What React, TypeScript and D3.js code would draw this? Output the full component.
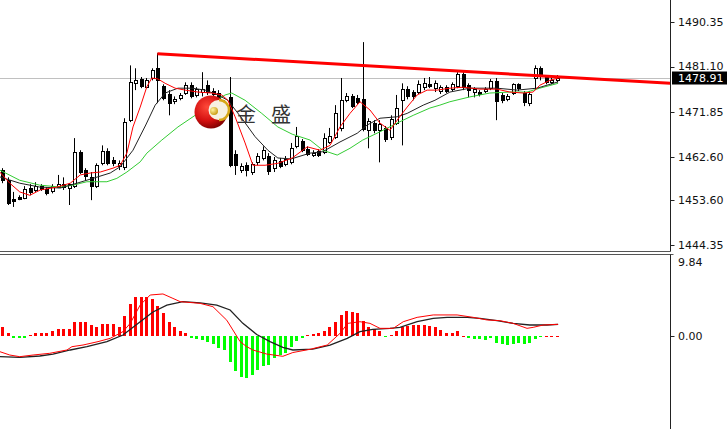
import React from 'react';
import * as d3 from 'd3';

// ---- price candles (bar index 0..100) ----
const opens = [1459.8,1457.7,1453.8,1454.2,1454.0,1456.1,1455.7,1456.5,1455.9,1455.5,1456.3,1456.9,1456.1,1456.5,1463.5,1459.8,1458.3,1456.5,1461.2,1463.7,1461.8,1460.6,1460.4,1470.1,1477.7,1478.6,1476.9,1478.8,1480.8,1477.1,1475.5,1474.0,1474.6,1475.7,1477.3,1475.3,1475.9,1477.3,1476.1,1475.7,1472.2,1474.8,1463.1,1459.8,1460.8,1459.4,1461.4,1462.3,1462.7,1460.2,1461.6,1461.0,1461.4,1464.7,1465.8,1464.1,1462.9,1463.7,1463.5,1465.6,1466.6,1468.5,1474.2,1475.0,1474.6,1474.4,1468.0,1469.5,1468.0,1468.5,1466.6,1469.5,1474.2,1476.5,1475.9,1475.9,1476.9,1477.5,1476.7,1476.1,1476.9,1476.5,1477.1,1479.6,1477.3,1475.9,1475.9,1476.1,1476.7,1478.1,1475.3,1474.4,1475.7,1477.5,1475.7,1473.6,1478.8,1480.8,1479.0,1477.9,1478.3];
const highs = [1460.2,1458.3,1455.3,1454.6,1456.5,1456.9,1457.3,1456.9,1456.3,1456.9,1458.8,1458.3,1457.1,1466.4,1463.9,1460.2,1459.4,1461.2,1464.9,1464.3,1462.5,1461.8,1470.5,1481.4,1480.8,1479.0,1478.8,1480.8,1483.9,1477.5,1476.3,1475.0,1475.7,1477.9,1477.9,1476.9,1480.0,1478.3,1476.7,1476.3,1474.2,1479.0,1463.9,1461.2,1461.4,1461.4,1463.3,1464.7,1463.3,1462.5,1462.3,1462.7,1465.4,1468.7,1466.2,1464.7,1463.9,1464.1,1467.4,1468.5,1473.2,1478.8,1475.7,1475.5,1475.3,1486.2,1470.5,1470.1,1470.1,1468.9,1471.1,1475.3,1477.7,1477.1,1476.3,1478.3,1478.8,1479.0,1478.3,1477.3,1477.3,1477.9,1480.0,1480.0,1477.7,1476.9,1476.3,1476.9,1478.6,1478.8,1475.7,1475.5,1477.7,1477.7,1476.1,1476.1,1481.4,1481.2,1479.4,1478.8,1479.4];
const lows = [1457.1,1452.6,1452.2,1453.6,1453.8,1454.6,1455.3,1455.5,1454.6,1455.0,1456.1,1455.7,1452.6,1456.1,1459.0,1457.7,1453.6,1456.1,1460.8,1460.8,1460.6,1459.8,1459.8,1469.7,1476.3,1476.7,1476.7,1478.3,1473.6,1474.2,1471.1,1473.4,1474.2,1475.3,1474.6,1474.8,1475.0,1475.3,1474.8,1472.8,1471.8,1460.4,1458.8,1459.2,1458.5,1458.8,1460.8,1461.8,1458.8,1459.4,1460.2,1460.6,1461.0,1464.3,1463.5,1462.7,1462.5,1462.5,1463.1,1465.2,1466.2,1467.8,1473.8,1472.6,1473.4,1467.8,1464.3,1467.4,1461.4,1465.6,1466.0,1469.1,1464.9,1474.4,1474.2,1475.5,1476.3,1476.7,1475.9,1475.5,1475.7,1476.1,1476.7,1476.3,1474.8,1474.8,1475.0,1475.7,1476.3,1470.1,1473.6,1474.0,1475.3,1476.1,1473.0,1473.0,1476.3,1478.3,1477.5,1477.5,1477.9];
const closes = [1457.7,1453.0,1453.4,1453.8,1455.9,1455.3,1456.5,1455.9,1455.0,1456.5,1456.9,1456.3,1456.9,1463.5,1459.4,1458.5,1456.5,1460.8,1463.7,1461.2,1461.2,1461.2,1469.7,1477.9,1478.3,1477.1,1478.3,1480.4,1478.3,1474.6,1473.6,1474.4,1475.3,1477.3,1475.0,1476.5,1476.5,1475.9,1475.5,1473.4,1473.4,1460.8,1460.8,1460.6,1459.8,1461.0,1462.7,1463.9,1459.6,1461.8,1460.6,1462.1,1464.3,1466.8,1463.9,1463.1,1463.3,1462.9,1466.4,1466.8,1471.5,1474.2,1475.0,1473.0,1473.8,1468.2,1469.9,1468.0,1469.3,1466.2,1470.3,1472.6,1476.5,1475.0,1475.0,1477.5,1477.7,1477.1,1477.7,1476.9,1476.1,1477.5,1479.6,1476.9,1476.3,1476.5,1475.5,1476.5,1478.1,1474.0,1474.2,1475.0,1477.5,1476.7,1473.8,1475.5,1480.8,1479.2,1477.9,1478.3,1478.9];

// ---- moving averages: [bar index, price] ----
const maFast: [number, number][] = [[-0.4,1459.4],[1.4,1457.1],[3.2,1455.3],[5.0,1454.6],[6.9,1455.7],[9.9,1456.3],[12.3,1457.1],[14.1,1458.8],[15.9,1459.2],[17.7,1459.4],[20.0,1460.2],[21.3,1460.8],[22.5,1463.3],[23.6,1468.7],[24.9,1472.8],[26.1,1477.0],[27.0,1478.8],[28.1,1478.6],[29.4,1477.7],[31.2,1476.7],[33.0,1476.3],[35.3,1475.9],[37.8,1475.7],[39.6,1475.3],[40.7,1474.2],[42.0,1470.8],[43.8,1465.4],[45.2,1460.8],[47.4,1460.8],[49.7,1461.2],[52.3,1462.3],[55.0,1464.6],[57.3,1463.9],[59.1,1464.9],[60.9,1468.7],[62.7,1471.5],[64.5,1473.9],[66.3,1472.2],[68.1,1469.5],[69.9,1468.0],[71.2,1470.1],[73.0,1472.8],[74.8,1475.3],[76.6,1476.3],[78.4,1476.3],[80.7,1476.7],[83.1,1476.9],[86.1,1476.5],[89.2,1476.5],[91.5,1475.9],[93.9,1475.7],[95.7,1475.9],[96.9,1477.3],[98.7,1478.3],[100.2,1478.8]];
const maMid: [number, number][] = [[-0.4,1458.4],[3.2,1457.1],[6.8,1456.3],[10.5,1456.1],[13.5,1457.1],[16.4,1458.1],[19.5,1459.2],[21.3,1460.5],[23.6,1463.9],[25.9,1469.1],[27.6,1473.2],[29.4,1475.7],[31.7,1476.7],[34.2,1476.7],[36.6,1476.3],[38.9,1475.3],[40.7,1474.2],[43.2,1470.5],[45.6,1466.7],[47.9,1463.9],[49.7,1462.3],[52.1,1462.1],[55.5,1463.3],[57.8,1463.6],[60.9,1465.6],[64.0,1467.4],[65.8,1469.1],[68.1,1470.5],[71.2,1470.8],[73.0,1471.5],[75.9,1473.2],[78.0,1474.2],[80.7,1475.9],[84.3,1476.7],[89.2,1476.7],[92.8,1476.3],[96.4,1476.7],[100.2,1478.0]];
const maSlow: [number, number][] = [[-0.4,1459.8],[3.2,1457.7],[6.8,1456.7],[10.5,1456.3],[12.8,1456.7],[15.3,1457.4],[18.9,1457.4],[20.7,1458.1],[22.5,1459.4],[24.9,1461.5],[26.1,1463.3],[28.8,1466.0],[31.7,1468.7],[34.8,1471.1],[37.8,1473.6],[40.2,1475.3],[41.4,1475.7],[43.8,1474.2],[46.8,1471.5],[49.7,1468.7],[52.3,1467.2],[55.5,1466.0],[57.8,1463.9],[60.4,1462.9],[62.7,1464.3],[65.0,1466.0],[68.1,1467.7],[71.2,1469.5],[74.1,1471.1],[77.1,1472.6],[78.9,1473.2],[80.7,1473.9],[84.3,1474.9],[87.9,1475.7],[91.5,1475.9],[94.6,1475.9],[96.9,1476.7],[100.2,1477.7]];

// trend line (bar index, price)
const trendLine: [number, number][] = [[28, 1483.8], [120.4, 1477.7]];
const lastPrice = 1478.9;
const lastPriceLabel = '1478.91';

// price axis
const priceTicks = [1490.35, 1481.10, 1471.85, 1462.60, 1453.60, 1444.35];
const priceTickLabels = ['1490.35', '1481.10', '1471.85', '1462.60', '1453.60', '1444.35'];

// ---- MACD ----
const macdHist = [1.24,0.35,-0.3,-0.3,-0.2,0.1,0.35,0.35,0.35,0.7,0.9,0.9,0.9,1.86,1.86,1.86,1.46,1.15,1.6,1.6,1.6,1.24,2.66,4.25,5.14,5.14,5.14,4.87,4.0,3.0,1.9,1.24,0.7,0.44,-0.2,-0.4,-0.55,-0.75,-1.0,-1.64,-1.86,-3.4,-4.7,-5.4,-5.63,-5.2,-4.5,-4.0,-3.86,-2.97,-2.53,-2.3,-1.4,-0.6,-0.2,0.1,0.25,0.35,0.65,1.15,1.8,2.8,3.3,3.2,3.1,2.0,1.24,0.9,0.6,-0.1,0.1,0.6,1.15,1.33,1.46,1.46,1.46,1.33,1.15,0.8,0.44,0.44,0.6,0.05,-0.3,-0.44,-0.44,-0.53,-0.3,-0.9,-1.06,-1.2,-1.06,-0.97,-1.06,-0.9,-0.44,-0.1,0.05,0.05,0.05];
const macdMain: [number, number][] = [[-0.4,-2.08],[1.4,-2.53],[3.2,-2.75],[5.6,-2.53],[8.6,-2.3],[11.7,-1.86],[12.6,-1.42],[14.6,-1.2],[17.3,-0.75],[19.5,-0.31],[21.8,0.58],[23.1,1.68],[24.9,4.12],[26.7,5.45],[29.0,5.59],[30.8,5.0],[32.1,4.57],[35.7,4.34],[38.0,3.9],[40.5,2.1],[41.6,0.8],[42.9,-0.75],[44.1,-1.42],[45.2,-1.86],[47.7,-2.4],[50.6,-2.7],[52.4,-2.2],[55.5,-1.77],[58.6,-1.2],[60.9,0.35],[62.3,1.68],[64.5,1.9],[66.3,1.68],[68.1,1.02],[70.5,1.02],[72.3,1.9],[74.8,2.48],[77.7,2.8],[82.0,2.8],[84.9,2.48],[87.4,2.13],[89.7,2.04],[92.1,1.68],[94.6,1.02],[95.7,1.15],[97.5,1.46],[100.2,1.55]];
const macdSignal: [number, number][] = [[-0.4,-2.75],[3.2,-2.84],[6.8,-2.66],[9.2,-2.4],[12.3,-1.86],[15.3,-1.42],[18.9,-0.75],[21.8,0.13],[24.9,1.9],[27.2,3.2],[29.7,4.1],[32.6,4.57],[35.7,4.4],[38.7,4.1],[41.1,3.46],[43.4,1.68],[45.9,0.2],[48.3,-0.75],[50.6,-1.5],[52.4,-1.86],[56.0,-1.75],[59.1,-1.2],[62.2,-0.31],[64.5,0.57],[66.8,0.89],[69.9,1.02],[71.7,1.15],[74.8,1.9],[77.7,2.35],[80.2,2.48],[83.8,2.48],[86.1,2.35],[89.2,2.04],[92.1,1.68],[95.1,1.46],[98.2,1.46],[100.2,1.55]];
const macdTicks = [9.84, 0];
const macdTickLabels = ['9.84', '0.00'];

const FONT = '"DejaVu Sans", Verdana, sans-serif';

export default function App() {
  const W = 727, H = 429;
  const axisX = 670.5;
  const x = d3.scaleLinear().domain([0, 100]).range([2, 557]);
  const y = d3.scaleLinear().domain([1444.35, 1490.35]).range([245, 22]);
  const ym = d3.scaleLinear().domain([0, 9.84]).range([336, 262]);

  const pLine = d3.line<[number, number]>().x(d => x(d[0])).y(d => y(d[1]));
  const mLine = d3.line<[number, number]>().x(d => x(d[0])).y(d => ym(d[1]));

  const cx = (i: number) => Math.round(x(i)) + 0.5;
  const yLast = y(lastPrice);

  return (
    <svg width={W} height={H} style={{ position: 'absolute', left: 0, top: 0, background: '#fff' }}
      xmlns="http://www.w3.org/2000/svg">
      <defs>
        <clipPath id="pricePane"><rect x={0} y={0} width={axisX} height={251} /></clipPath>
        <clipPath id="macdPane"><rect x={0} y={255} width={axisX} height={H - 255} /></clipPath>
        <radialGradient id="ball" cx="0.38" cy="0.35" r="0.7">
          <stop offset="0" stopColor="#ff4a3a" />
          <stop offset="0.6" stopColor="#d41010" />
          <stop offset="1" stopColor="#7a0000" />
        </radialGradient>
        <radialGradient id="gold" cx="0.35" cy="0.35" r="0.7">
          <stop offset="0" stopColor="#fff3a0" />
          <stop offset="1" stopColor="#c99a10" />
        </radialGradient>
      </defs>

      {/* price pane */}
      <g clipPath="url(#pricePane)">
        <line x1={0} x2={axisX} y1={Math.round(yLast) + 0.5} y2={Math.round(yLast) + 0.5} stroke="#c0c0c0" strokeWidth={1} />
        {opens.map((o, i) => {
          const c = closes[i];
          const top = Math.round(y(Math.max(o, c))) + 0.5;
          const bot = Math.round(y(Math.min(o, c))) + 0.5;
          const px = cx(i);
          return (
            <g key={i}>
              <line x1={px} x2={px} y1={y(highs[i])} y2={y(lows[i])} stroke="#000" strokeWidth={1} />
              <rect x={px - 1.5} y={top} width={3} height={Math.max(bot - top, 1)}
                fill={c >= o ? '#fff' : '#000'} stroke="#000" strokeWidth={1} shapeRendering="crispEdges" />
            </g>
          );
        })}
        <path d={pLine(maSlow) || ''} fill="none" stroke="#33cc33" strokeWidth={1} />
        <path d={pLine(maMid) || ''} fill="none" stroke="#222" strokeWidth={1} />
        <path d={pLine(maFast) || ''} fill="none" stroke="#ff0000" strokeWidth={1} />
        <path d={pLine(trendLine) || ''} fill="none" stroke="#ff0000" strokeWidth={3} />

        {/* logo */}
        <circle cx={211} cy={112} r={16.5} fill="url(#ball)" />
        <circle cx={218.5} cy={110} r={10} fill="#f7f1e0" />
        <path d="M 219 100 A 10 10 0 0 1 219 120" fill="none" stroke="#d8a818" strokeWidth={2.5} />
        <circle cx={214} cy={111} r={4} fill="url(#gold)" />
        <text x={246} y={122} textAnchor="middle" fontFamily='"Noto Sans CJK SC", sans-serif' fontSize={20} fill="#333">金</text>
        <text x={281} y={122} textAnchor="middle" fontFamily='"Noto Sans CJK SC", sans-serif' fontSize={20} fill="#333">盛</text>
      </g>

      {/* pane separator */}
      <line x1={0} x2={axisX} y1={251.5} y2={251.5} stroke="#555" strokeWidth={1} />
      <line x1={0} x2={axisX + 3} y1={254.5} y2={254.5} stroke="#555" strokeWidth={1} />

      {/* MACD pane */}
      <g clipPath="url(#macdPane)">
        {macdHist.map((v, i) => {
          const y0 = ym(0), y1 = ym(v);
          const top = Math.min(y0, y1);
          const h = Math.max(Math.abs(y1 - y0), 1);
          return (
            <rect key={i} x={Math.round(x(i)) - 1} y={top} width={3} height={h}
              fill={v >= 0 ? '#ff0000' : '#00ff00'} shapeRendering="crispEdges" />
          );
        })}
        <path d={mLine(macdSignal) || ''} fill="none" stroke="#222" strokeWidth={1.3} />
        <path d={mLine(macdMain) || ''} fill="none" stroke="#ff0000" strokeWidth={1} />
      </g>

      {/* right axis */}
      <line x1={axisX} x2={axisX} y1={0} y2={251.5} stroke="#222" strokeWidth={1} />
      <line x1={axisX} x2={axisX} y1={254.5} y2={H} stroke="#222" strokeWidth={1} />
      {priceTicks.map((t, k) => {
        const ty = y(t);
        // keep the label just above the current-price box when they would touch
        const ly = Math.abs(ty - yLast) < 14 && ty < yLast ? Math.min(ty + 4, yLast - 8) : ty + 4;
        return (
          <g key={k}>
            <line x1={axisX} x2={axisX + 4} y1={Math.round(ty) + 0.5} y2={Math.round(ty) + 0.5} stroke="#222" />
            <text x={678} y={ly} fontFamily={FONT} fontSize={11} fill="#111">{priceTickLabels[k]}</text>
          </g>
        );
      })}
      <rect x={672} y={yLast - 6} width={60} height={13} fill="#000" />
      <text x={678} y={yLast + 4} fontFamily={FONT} fontSize={11} fill="#fff">{lastPriceLabel}</text>

      {macdTicks.map((t, k) => (
        <g key={k}>
          {t === 0 && <line x1={axisX} x2={axisX + 4} y1={Math.round(ym(t)) + 0.5} y2={Math.round(ym(t)) + 0.5} stroke="#222" />}
          <text x={678} y={ym(t) + 4} fontFamily={FONT} fontSize={11} fill="#111">{macdTickLabels[k]}</text>
        </g>
      ))}
    </svg>
  );
}
